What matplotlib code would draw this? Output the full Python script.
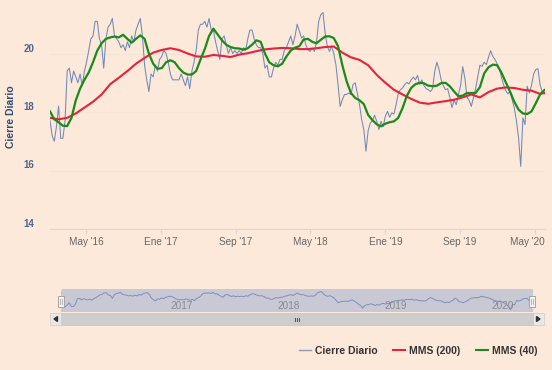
import matplotlib
matplotlib.use('Agg')
import matplotlib.pyplot as plt
import matplotlib.transforms as mtransforms
from matplotlib.lines import Line2D
from matplotlib.patches import Rectangle, Polygon
import pandas as pd

plt.rcParams['font.family'] = ['Liberation Sans', 'DejaVu Sans']

# cierre semanal (lectura del grafico), desde 2016-01-05
inicio = pd.Timestamp('2016-01-05')
cierre = [
    17.7, 17.2, 17.0, 17.5, 18.2, 17.1, 17.1, 17.7, 19.4, 19.5,
    19.0, 19.4, 19.2, 19.0, 19.3, 18.9, 19.4, 19.7, 20.1, 20.5,
    20.6, 21.1, 21.1, 20.5, 20.3, 19.5, 20.5, 20.9, 21.0, 21.2,
    20.6, 20.5, 20.4, 20.2, 20.3, 20.1, 20.4, 20.2, 20.6, 20.4,
    20.8, 21.0, 21.2, 20.6, 19.6, 19.1, 18.7, 19.3, 19.2, 19.6,
    19.4, 19.8, 19.9, 20.1, 20.0, 19.7, 19.3, 19.1, 19.1,
    19.1, 19.1, 19.3, 19.1, 18.9, 19.2, 18.8, 19.4, 19.7, 20.1,
    20.8, 21.0, 21.0, 21.1, 20.9, 21.2, 20.8, 20.8, 20.4, 20.1,
    19.8, 20.5, 20.6, 20.3, 20.0, 20.2, 20.0, 20.1, 20.0, 20.1,
    20.0, 20.2, 20.1, 20.5, 20.8, 20.8, 20.5, 20.3, 20.2, 20.2,
    20.0, 19.5, 19.6, 19.2, 19.2, 19.5, 19.7, 19.6, 19.8, 19.8,
    20.1, 20.2, 20.4, 20.6, 20.3, 20.6, 21.0,
    20.76, 20.53, 20.6, 20.3, 20.13, 20.07, 20.19, 20.07, 20.4, 21.1,
    21.33, 21.4, 20.7, 20.25, 20.07, 20.25, 20.0, 19.62, 18.94, 18.19,
    18.42, 18.6, 18.6, 18.65, 18.6, 18.94, 19.0, 18.62, 18.25, 17.74,
    17.4, 16.66, 17.36, 17.62, 17.7, 17.89, 17.68, 17.4, 17.68, 17.5,
    17.85, 18.02, 17.82, 17.97, 17.93, 18.25, 18.62, 18.76, 18.82, 18.93,
    19.01, 18.96, 19.1, 19.19, 19.1, 19.25, 18.94, 19.1,
    18.9, 18.8, 18.76, 18.7, 18.8, 19.4, 19.7, 19.45, 19.1, 18.9,
    18.76, 18.8, 18.5, 18.15, 18.4, 18.25, 18.6, 18.9, 19.55, 19.16,
    18.5, 18.4, 18.19, 18.5, 18.8, 19.2, 19.6, 19.56, 19.7, 19.62,
    19.87, 20.1, 19.9, 19.8, 19.65, 19.5, 19.19, 18.93, 18.73, 18.62,
    18.7, 18.42, 18.14, 17.7, 17.1, 16.14, 17.8, 17.57, 18.88, 18.65,
    18.9, 19.3, 19.45, 19.48, 18.93, 18.68, 18.62,
]
# media movil 200 (cada 4 semanas + ultimo punto)
mms200 = [
    17.8, 17.75, 17.8, 17.95, 18.15, 18.35, 18.6, 18.95, 19.17, 19.4,
    19.65, 19.85, 20.03, 20.12, 20.18, 20.12, 20.0, 19.9, 19.89, 19.95,
    19.92, 19.88, 19.96, 20.01, 20.08, 20.14, 20.17, 20.19, 20.18, 20.15,
    20.15, 20.18, 20.22, 20.24, 20.03, 19.87, 19.78, 19.6, 19.27, 19.0,
    18.76, 18.6, 18.45, 18.32, 18.28, 18.33, 18.37, 18.42, 18.5, 18.6,
    18.5, 18.68, 18.8, 18.84, 18.82, 18.76, 18.73, 18.62, 18.65,
]
# media movil 40 (cada 2 semanas)
mms40 = [
    18.02, 17.75, 17.65, 17.53, 17.52, 17.8, 18.4, 18.8, 19.1, 19.35,
    19.7, 20.1, 20.35, 20.5, 20.55, 20.58, 20.55, 20.64, 20.5, 20.37,
    20.5, 20.62, 20.5, 20.0, 19.65, 19.48, 19.5, 19.7, 19.77, 19.7,
    19.5, 19.35, 19.28, 19.28, 19.4, 19.79, 20.15, 20.6, 20.85, 20.65,
    20.45, 20.3, 20.22, 20.18, 20.17, 20.13, 20.18, 20.3, 20.45, 20.4,
    20.0, 19.7, 19.6, 19.56, 19.65, 19.9, 20.1, 20.2, 20.25, 20.48,
    20.5, 20.4, 20.35, 20.47, 20.58, 20.59, 20.53, 20.25, 19.6, 19.05,
    18.65, 18.48, 18.4, 18.27, 17.9, 17.72, 17.58, 17.51, 17.6, 17.65,
    17.68, 17.8, 18.13, 18.55, 18.82, 18.95, 19.0, 18.98, 18.9, 18.88,
    18.9, 18.99, 19.0, 18.88, 18.7, 18.54, 18.56, 18.65, 18.65, 18.65,
    18.85, 19.32, 19.53, 19.62, 19.6, 19.35, 19.02, 18.7, 18.35, 18.08,
    17.95, 17.93, 18.02, 18.3, 18.6, 18.75,
]

fechas_ticks = ['2016-05-01', '2017-01-01', '2017-09-01', '2018-05-01',
                '2019-01-01', '2019-09-01', '2020-05-01']
etiquetas_ticks = ["May '16", "Ene '17", "Sep '17", "May '18",
                   "Ene '19", "Sep '19", "May '20"]
anios_nav = ['2017', '2018', '2019', '2020']

dias = pd.date_range(inicio, periods=len(cierre), freq='7D')
dias200 = list(dias[::4]) + [dias[-1]]
dias40 = dias[::2]

bg = '#fce9da'
c_cierre = '#7089b6'
c_rojo = '#e5233a'
c_verde = '#1b8a1b'

W, H = 552, 370
fig = plt.figure(figsize=(W / 100, H / 100), dpi=100)
fig.patch.set_facecolor(bg)


def caja(x0, y0, x1, y1):
    return [x0 / W, 1 - y1 / H, (x1 - x0) / W, (y1 - y0) / H]


ax = fig.add_axes(caja(50, 5, 545, 229))
ax.set_facecolor(bg)
ax.plot(dias, cierre, color=c_cierre, lw=0.75, zorder=2)
ax.plot(dias200, mms200, color=c_rojo, lw=1.5, zorder=3)
ax.plot(dias40, mms40, color=c_verde, lw=1.6, zorder=4)
ax.set_xlim(inicio, inicio + pd.Timedelta(days=1612))
ax.set_ylim(14, 14 + 224 / 29.25)
ax.set_yticks([14, 16, 18, 20])
ax.yaxis.grid(True, color='#f6e4d6', lw=0.8)
ax.set_axisbelow(True)
for s in ['top', 'right', 'left']:
    ax.spines[s].set_visible(False)
ax.spines['bottom'].set_color('#ddd6cf')
ax.spines['bottom'].set_zorder(5)
ax.tick_params(axis='y', length=0, pad=11.5, labelsize=7,
               labelcolor='#4a6591')
arriba = mtransforms.ScaledTranslation(0, 0.06, fig.dpi_scale_trans)
for t in ax.get_yticklabels():
    t.set_fontweight('bold')
    t.set_transform(t.get_transform() + arriba)
ax.set_xticks(pd.to_datetime(fechas_ticks))
ax.set_xticklabels(etiquetas_ticks)
ax.tick_params(axis='x', length=3.6, color='#ddd6cf', pad=2,
               labelsize=7.2, labelcolor='#666666')
ult = ax.get_xticklabels()[-1]
ult.set_transform(ult.get_transform() +
                  mtransforms.ScaledTranslation(-0.07, 0, fig.dpi_scale_trans))
ax.set_ylabel('Cierre Diario', fontsize=7.5, fontweight='bold',
              color='#2f4b75')
ax.yaxis.set_label_coords((16 - 50) / 495, 0.5)

# navegador
nav = fig.add_axes(caja(61, 289, 533, 312))
nav.set_facecolor('#c9c9d5')
nav.plot(dias, cierre, color='#7d8fba', lw=0.7)
nav.set_xlim(dias[0], dias[-1])
nav.set_ylim(15.5, 22.2)
nav.set_xticks([])
nav.set_yticks([])
for s in nav.spines.values():
    s.set_visible(False)
desp = mtransforms.ScaledTranslation(0.03, 0, fig.dpi_scale_trans)
for a in anios_nav:
    nav.text(pd.Timestamp(a + '-01-01'), 0.24, a, ha='left', va='center',
             fontsize=7.2, color='#8a8a92',
             transform=nav.get_xaxis_transform() + desp)

# barra de desplazamiento y asas
ov = fig.add_axes([0, 0, 1, 1])
ov.set_xlim(0, W)
ov.set_ylim(H, 0)
ov.axis('off')
ov.patch.set_alpha(0)
ov.add_patch(Rectangle((61, 313), 472, 12, facecolor='#cdcdcd',
                       edgecolor='#c4c4c4', lw=0.5))
for xb in (50, 533):
    ov.add_patch(Rectangle((xb, 313), 11, 12, facecolor='#e8e8e8',
                           edgecolor='#cccccc', lw=0.5))
ov.add_patch(Polygon([[57.5, 316.5], [57.5, 321.5], [54, 319]],
                     closed=True, color='#333333'))
ov.add_patch(Polygon([[536.5, 316.5], [536.5, 321.5], [540, 319]],
                     closed=True, color='#333333'))
for xr in (294.5, 296.5, 298.5):
    ov.plot([xr, xr], [317.5, 321], color='#333333', lw=0.6)
for xh in (58, 529):
    ov.add_patch(Rectangle((xh, 296), 6, 11, facecolor='#f2f2f2',
                           edgecolor='#999999', lw=0.6))
    for xl in (xh + 2.3, xh + 3.7):
        ov.plot([xl, xl], [299, 304], color='#999999', lw=0.5)
ov.plot([50, 61], [289, 289], color='#f3ece6', lw=0.8)
ov.plot([533, 545], [289, 289], color='#f3ece6', lw=0.8)

# leyenda
manijas = [Line2D([], [], color='#8d9ab3', lw=1.0),
           Line2D([], [], color=c_rojo, lw=1.5),
           Line2D([], [], color=c_verde, lw=1.5)]
leg = fig.legend(manijas, ['Cierre Diario', 'MMS (200)', 'MMS (40)'],
                 loc='center right', bbox_to_anchor=(538 / W, 1 - 351 / H),
                 ncol=3, frameon=False, handlelength=1.15,
                 handletextpad=0.4, columnspacing=1.5, borderpad=0,
                 borderaxespad=0, prop={'weight': 'bold', 'size': 7.5})
for t in leg.get_texts():
    t.set_color('#333333')

fig.savefig('out.png', dpi=100, facecolor=bg)
